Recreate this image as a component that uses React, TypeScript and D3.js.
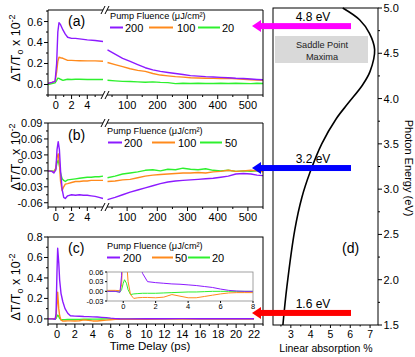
import React from 'react';
import * as d3 from 'd3';

// ---- data ----
const fluenceAB = ['200', '100', '20'];
const fluenceB = ['200', '100', '50'];
const fluenceC = ['200', '50', '20'];

// panel (a): short delays (ps) and long delays (ps)
const aTimeShort = [-1, -0.5, -0.1, 0.1, 0.25, 0.4, 0.6, 0.9, 1.2, 1.5, 2, 2.5, 3, 4, 5, 6];
const aPurpleShort = [0.01, 0.02, 0.03, 0.2, 0.5, 0.59, 0.57, 0.52, 0.48, 0.45, 0.44, 0.44, 0.435, 0.425, 0.42, 0.41];
const aOrangeShort = [0.01, 0.02, 0.03, 0.12, 0.22, 0.26, 0.255, 0.25, 0.24, 0.23, 0.23, 0.228, 0.227, 0.225, 0.225, 0.222];
const aGreenShort = [0.0, 0.01, 0.015, 0.04, 0.06, 0.058, 0.05, 0.04, 0.045, 0.05, 0.048, 0.05, 0.05, 0.048, 0.048, 0.047];
const aTimeLong = [35, 60, 85, 110, 135, 160, 185, 210, 235, 260, 285, 310, 335, 360, 385, 410, 435, 460, 485, 510, 530, 550];
const aPurpleLong = [0.33, 0.29, 0.25, 0.22, 0.19, 0.16, 0.14, 0.125, 0.115, 0.105, 0.095, 0.085, 0.08, 0.075, 0.072, 0.068, 0.065, 0.06, 0.057, 0.052, 0.048, 0.045];
const aOrangeLong = [0.21, 0.19, 0.17, 0.15, 0.135, 0.125, 0.105, 0.09, 0.082, 0.075, 0.07, 0.065, 0.062, 0.06, 0.058, 0.056, 0.06, 0.055, 0.05, 0.045, 0.042, 0.04];
const aGreenLong = [0.04, 0.035, 0.03, 0.028, 0.025, 0.022, 0.025, 0.02, 0.018, 0.008, 0.012, 0.01, 0.012, 0.01, 0.01, 0.012, 0.01, 0.012, 0.01, 0.008, 0.012, 0.01];

// panel (b)
const bTimeShort = [-1, -0.5, -0.25, 0, 0.15, 0.3, 0.45, 0.6, 0.8, 1.0, 1.2, 1.5, 2, 2.5, 3, 3.5, 4, 4.5, 5, 5.5, 6];
const bPurpleShort = [0, -0.001, -0.004, 0.002, 0.04, 0.055, 0.04, 0.0, -0.035, -0.05, -0.052, -0.047, -0.045, -0.046, -0.045, -0.046, -0.046, -0.047, -0.048, -0.05, -0.052];
const bOrangeShort = [0, -0.001, -0.002, 0.005, 0.025, 0.032, 0.015, -0.02, -0.037, -0.03, -0.025, -0.024, -0.022, -0.02, -0.02, -0.019, -0.019, -0.018, -0.018, -0.018, -0.018];
const bGreenShort = [0, 0, -0.001, 0.004, 0.015, 0.02, 0.01, -0.005, -0.015, -0.018, -0.02, -0.017, -0.016, -0.015, -0.014, -0.013, -0.012, -0.012, -0.011, -0.011, -0.01];
const bTimeLong = [35, 60, 85, 110, 135, 160, 185, 210, 235, 260, 285, 310, 335, 360, 385, 410, 435, 460, 485, 510, 530, 550];
const bPurpleLong = [-0.054, -0.05, -0.045, -0.04, -0.036, -0.032, -0.028, -0.024, -0.021, -0.019, -0.018, -0.017, -0.016, -0.015, -0.014, -0.012, -0.01, -0.006, -0.005, -0.006, -0.008, -0.009];
const bOrangeLong = [-0.02, -0.019, -0.017, -0.016, -0.013, -0.01, -0.008, -0.007, -0.006, -0.005, -0.004, -0.004, -0.003, -0.004, -0.002, -0.001, 0.001, -0.001, 0.0, 0.001, 0.0, -0.002];
const bGreenLong = [-0.013, -0.01, -0.006, -0.004, -0.002, 0.001, 0.002, 0.0, 0.003, 0.002, 0.005, 0.003, 0.002, 0.004, 0.001, 0.0, 0.001, -0.001, 0.0, -0.001, 0.0, 0.001];

// panel (c)
const cTime = [-1, -0.5, -0.2, -0.1, 0, 0.08, 0.2, 0.3, 0.45, 0.65, 0.9, 1.2, 1.5, 2, 2.5, 3, 3.5, 4, 4.5, 5, 5.5, 6, 6.5, 7, 7.5, 8, 10, 12, 14, 16, 18, 20, 22];
const cPurple = [0, 0, -0.003, 0.05, 0.45, 0.69, 0.55, 0.38, 0.25, 0.17, 0.1, 0.055, 0.03, 0.027, 0.025, 0.023, 0.022, 0.02, 0.018, 0.015, 0.012, 0.007, 0.003, 0.001, 0, 0, 0.002, 0.002, 0.003, 0.002, 0.002, 0.002, 0.002];
const cOrange = [0.003, 0.003, 0.002, 0.02, 0.15, 0.26, 0.1, 0.03, -0.01, -0.022, -0.02, -0.019, -0.019, -0.02, -0.018, -0.01, -0.015, -0.02, -0.02, -0.016, -0.012, -0.008, -0.005, -0.004, -0.004, -0.004, -0.003, -0.002, -0.002, -0.002, -0.002, -0.002, -0.002];
const cGreen = [0, 0, -0.002, 0.005, 0.025, 0.036, 0.025, 0.005, -0.01, -0.008, -0.007, -0.006, -0.006, -0.006, -0.005, -0.004, -0.003, -0.002, -0.002, -0.001, 0, 0, 0, 0, 0, 0, 0.003, 0.003, 0.003, 0.003, 0.003, 0.003, 0.003];

// panel (d): linear absorption (%) vs photon energy (eV)
const energyEv = [1.5, 1.92, 2.55, 2.91, 3.18, 3.5, 3.78, 3.95, 4.15, 4.3, 4.54, 4.72, 4.87, 5.0];
const absorptionPct = [2.6, 2.8, 3.2, 3.56, 3.96, 4.56, 5.3, 5.9, 6.62, 7.0, 7.23, 6.97, 6.47, 5.62];
const markerEnergies = [4.8, 3.2, 1.6];
const markerLabels = ['4.8 eV', '3.2 eV', '1.6 eV'];

// tick values
const shortTicks = [0, 2, 4];
const shortMinor = [-1, 1, 3, 5];
const longTicks = [100, 200, 300, 400, 500];
const longMinor = [50, 150, 250, 350, 450, 550];
const aYTicks = [0, 0.2, 0.4, 0.6];
const aYMinor = [-0.1, 0.1, 0.3, 0.5, 0.7];
const bYTicks = [-0.06, -0.03, 0, 0.03, 0.06, 0.09];
const bYMinor = [-0.045, -0.015, 0.015, 0.045, 0.075];
const cXTicks = [0, 2, 4, 6, 8, 10, 12, 14, 16, 18, 20, 22];
const cXMinor = [-1, 1, 3, 5, 7, 9, 11, 13, 15, 17, 19, 21, 23];
const cYTicks = [0, 0.2, 0.4, 0.6, 0.8];
const cYMinor = [0.1, 0.3, 0.5, 0.7];
const insetXTicks = [0, 2, 4, 6, 8];
const insetYTicks = [-0.03, 0, 0.03, 0.06];
const dXTicks = [3, 4, 5, 6, 7];
const dXMinor = [2.5, 3.5, 4.5, 5.5, 6.5];
const dYTicks = [1.5, 2.0, 2.5, 3.0, 3.5, 4.0, 4.5, 5.0];
const dYMinor = [1.75, 2.25, 2.75, 3.25, 3.75, 4.25, 4.75];

const FONT = '"Liberation Sans", Arial, sans-serif';
const PURPLE = '#8c1aff';
const ORANGE = '#ff8a1c';
const GREEN = '#2ef02e';
const colors = [PURPLE, ORANGE, GREEN];
const arrowColors = ['#ff00ff', '#0000ff', '#ff0000'];

type Scale = d3.ScaleLinear<number, number>;

function Trace({ xs, ys, x, y, color, w = 1.4 }: { xs: number[]; ys: number[]; x: Scale; y: Scale; color: string; w?: number }) {
  const gen = d3.line<number>().x((_, i) => x(xs[i])).y(d => y(d));
  return <path d={gen(ys) || ''} fill="none" stroke={color} strokeWidth={w} strokeLinejoin="round" />;
}

function XTicks({ scale, major, minor, y, labelY, fs = 11, len = 4, fmt = (v: number) => String(v) }: any) {
  return (
    <g>
      {major.map((v: number) => (
        <g key={'M' + v}>
          <line x1={scale(v)} x2={scale(v)} y1={y} y2={y + len} stroke="#000" />
          <text x={scale(v)} y={labelY} fontSize={fs} textAnchor="middle">{fmt(v)}</text>
        </g>
      ))}
      {minor.map((v: number) => (
        <line key={'m' + v} x1={scale(v)} x2={scale(v)} y1={y} y2={y + len / 2} stroke="#000" />
      ))}
    </g>
  );
}

function YTicks({ scale, major, minor, x, fs = 11, len = 4, fmt = (v: number) => String(v), right = false }: any) {
  const s = right ? 1 : -1;
  return (
    <g>
      {major.map((v: number) => (
        <g key={'M' + v}>
          <line x1={x} x2={x + s * len} y1={scale(v)} y2={scale(v)} stroke="#000" />
          <text x={x + s * (len + 1.5)} y={scale(v)} dy="0.36em" fontSize={fs} textAnchor={right ? 'start' : 'end'}>{fmt(v)}</text>
        </g>
      ))}
      {minor.map((v: number) => (
        <line key={'m' + v} x1={x} x2={x + s * len / 2} y1={scale(v)} y2={scale(v)} stroke="#000" />
      ))}
    </g>
  );
}

function YLabel({ cy }: { cy: number }) {
  return (
    <text transform={`translate(20,${cy}) rotate(-90)`} fontSize={12.5} textAnchor="middle">
      ΔT/T<tspan fontSize={9} dy={3}>o</tspan><tspan dy={-3}> x 10</tspan><tspan fontSize={9} dy={-5}>-2</tspan>
    </text>
  );
}

function Legend({ x, y, names, nameX, lineX }: { x: number; y: number; names: string[]; nameX: number[]; lineX: number[][] }) {
  return (
    <g>
      <text x={x} y={y} fontSize={9.2}>Pump Fluence (μJ/cm²)</text>
      {names.map((n, i) => (
        <g key={n + i}>
          <line x1={lineX[i][0]} x2={lineX[i][1]} y1={y + 8.5} y2={y + 8.5} stroke={colors[i]} strokeWidth={2} />
          <text x={nameX[i]} y={y + 12.5} fontSize={11}>{n}</text>
        </g>
      ))}
    </g>
  );
}

function BrokenFrame({ top, bottom, left, right, gap }: { top: number; bottom: number; left: number; right: number; gap: [number, number] }) {
  const mark = (cx: number, cy: number) => <line x1={cx - 2} y1={cy + 4} x2={cx + 2} y2={cy - 4} stroke="#000" />;
  return (
    <g>
      <line x1={left} x2={left} y1={top} y2={bottom} stroke="#000" />
      <line x1={right} x2={right} y1={top} y2={bottom} stroke="#000" />
      <line x1={left} x2={gap[0]} y1={top} y2={top} stroke="#000" />
      <line x1={gap[1]} x2={right} y1={top} y2={top} stroke="#000" />
      <line x1={left} x2={gap[0]} y1={bottom} y2={bottom} stroke="#000" />
      <line x1={gap[1]} x2={right} y1={bottom} y2={bottom} stroke="#000" />
      {mark(gap[0], top)}{mark(gap[1], top)}{mark(gap[0], bottom)}{mark(gap[1], bottom)}
    </g>
  );
}

export default function App() {
  const L = 48, R = 263;
  const shortX = d3.scaleLinear().domain([-1, 6]).range([L, 103]);
  const longX = d3.scaleLinear().domain([30, 550]).range([106, R]);

  const aY = d3.scaleLinear().domain([-0.1, 0.71]).range([95, 10]);
  const bY = d3.scaleLinear().domain([-0.068, 0.09]).range([207, 123]);
  const cX = d3.scaleLinear().domain([-1, 23]).range([L, R]);
  const cY = d3.scaleLinear().domain([-0.05, 0.8]).range([324, 237]);
  const inX = d3.scaleLinear().domain([-1, 8]).range([107, 253]);
  const inY = d3.scaleLinear().domain([-0.03, 0.06]).range([301, 272]);
  const dX = d3.scaleLinear().domain([2.1, 7.4]).range([273, 378]);
  const dY = d3.scaleLinear().domain([1.5, 5.0]).range([325, 8]);

  const aShort = [aPurpleShort, aOrangeShort, aGreenShort];
  const aLong = [aPurpleLong, aOrangeLong, aGreenLong];
  const bShort = [bPurpleShort, bOrangeShort, bGreenShort];
  const bLong = [bPurpleLong, bOrangeLong, bGreenLong];
  const cSeries = [cPurple, cOrange, cGreen];

  const absLine = d3.line<number>()
    .x((_, i) => dX(absorptionPct[i]))
    .y(d => dY(d))
    .curve(d3.curveCatmullRom.alpha(0.5));

  const f1 = (v: number) => v.toFixed(1);
  const f2 = (v: number) => v.toFixed(2);

  return (
    <svg width={415} height={357} style={{ position: 'absolute', left: 0, top: 0 }} fontFamily={FONT}>
      <defs>
        <clipPath id="clipA"><rect x={L} y={10} width={R - L} height={85} /></clipPath>
        <clipPath id="clipB"><rect x={L} y={123} width={R - L} height={84} /></clipPath>
        <clipPath id="clipC"><rect x={L} y={237} width={R - L} height={87} /></clipPath>
        <clipPath id="clipIn"><rect x={107} y={272} width={146} height={29} /></clipPath>
      </defs>
      <rect width={415} height={357} fill="#fff" />

      {/* panel (a) */}
      <g clipPath="url(#clipA)">
        {[2, 1, 0].map(i => (
          <g key={'a' + i}>
            <Trace xs={aTimeShort} ys={aShort[i]} x={shortX} y={aY} color={colors[i]} />
            <Trace xs={aTimeLong} ys={aLong[i]} x={longX} y={aY} color={colors[i]} />
          </g>
        ))}
      </g>
      <BrokenFrame top={10} bottom={95} left={L} right={R} gap={[103, 107]} />
      <XTicks scale={shortX} major={shortTicks} minor={shortMinor} y={95} labelY={109} />
      <XTicks scale={longX} major={longTicks} minor={longMinor} y={95} labelY={109} />
      <YTicks scale={aY} major={aYTicks} minor={aYMinor} x={L} fmt={f1} />
      <YLabel cy={48} />
      <text x={68} y={26} fontSize={14}>(a)</text>
      <Legend x={110} y={19} names={fluenceAB} nameX={[125, 177, 222]} lineX={[[110, 123], [149, 173], [198, 220]]} />

      {/* panel (b) */}
      <g clipPath="url(#clipB)">
        {[2, 1, 0].map(i => (
          <g key={'b' + i}>
            <Trace xs={bTimeShort} ys={bShort[i]} x={shortX} y={bY} color={colors[i]} />
            <Trace xs={bTimeLong} ys={bLong[i]} x={longX} y={bY} color={colors[i]} />
          </g>
        ))}
      </g>
      <BrokenFrame top={123} bottom={207} left={L} right={R} gap={[103, 107]} />
      <XTicks scale={shortX} major={shortTicks} minor={shortMinor} y={207} labelY={221} />
      <XTicks scale={longX} major={longTicks} minor={longMinor} y={207} labelY={221} />
      <YTicks scale={bY} major={bYTicks} minor={bYMinor} x={L} fmt={f2} />
      <YLabel cy={157} />
      <text x={68} y={140} fontSize={14}>(b)</text>
      <Legend x={107} y={134} names={fluenceB} nameX={[124, 178, 225]} lineX={[[108, 122], [152, 175], [200, 222]]} />

      {/* panel (c) */}
      <g clipPath="url(#clipC)">
        {[2, 1, 0].map(i => (
          <Trace key={'c' + i} xs={cTime} ys={cSeries[i]} x={cX} y={cY} color={colors[i]} />
        ))}
      </g>
      <rect x={L} y={237} width={R - L} height={87} fill="none" stroke="#000" />
      <XTicks scale={cX} major={cXTicks} minor={cXMinor} y={324} labelY={338} />
      <YTicks scale={cY} major={cYTicks} minor={cYMinor} x={L} fmt={f1} />
      <YLabel cy={287} />
      <text x={68} y={253} fontSize={14}>(c)</text>
      <Legend x={107} y={249} names={fluenceC} nameX={[123, 175, 212]} lineX={[[107, 120], [152, 173], [188, 210]]} />
      <text x={150} y={350} fontSize={11.5} textAnchor="middle">Time Delay (ps)</text>

      {/* inset */}
      <rect x={107} y={272} width={146} height={29} fill="#fff" />
      <g clipPath="url(#clipIn)">
        {[2, 1, 0].map(i => (
          <Trace key={'in' + i} xs={cTime} ys={cSeries[i]} x={inX} y={inY} color={colors[i]} w={1} />
        ))}
      </g>
      <rect x={107} y={272} width={146} height={29} fill="none" stroke="#8a8a8a" strokeWidth={0.8} />
      <g fill="#000">
        <XTicks scale={inX} major={insetXTicks} minor={[]} y={301} labelY={309} fs={7.5} len={2} />
        <YTicks scale={inY} major={insetYTicks} minor={[]} x={107} fs={7.5} len={2} fmt={f2} />
      </g>

      {/* panel (d) */}
      <rect x={275} y={36} width={93} height={27} fill="#d9d9d9" />
      <text x={322} y={48} fontSize={9.2} textAnchor="middle" fill="#222">Saddle Point</text>
      <text x={322} y={60} fontSize={9.2} textAnchor="middle" fill="#222">Maxima</text>
      <path d={absLine(energyEv) || ''} fill="none" stroke="#000" strokeWidth={1.6} />
      <rect x={273} y={8} width={105} height={317} fill="none" stroke="#000" />
      <XTicks scale={dX} major={dXTicks} minor={dXMinor} y={325} labelY={338} fs={10.5} len={3} />
      <YTicks scale={dY} major={dYTicks} minor={dYMinor} x={378} right fmt={f1} />
      <text x={326} y={352} fontSize={10.5} textAnchor="middle">Linear absorption %</text>
      <text transform="translate(405,168) rotate(90)" fontSize={11} textAnchor="middle">Photon  Energy (eV)</text>
      <text x={342} y={253} fontSize={14}>(d)</text>

      {/* arrows */}
      {markerEnergies.map((e, i) => {
        const y = dY(e) - (i === 0 ? 0 : 3);
        return (
          <g key={'arr' + i}>
            <rect x={259} y={y - 3} width={92} height={6} fill={arrowColors[i]} />
            <path d={`M252,${y} L261,${y - 6} L261,${y + 6} Z`} fill={arrowColors[i]} />
            <text x={313} y={y - 5} fontSize={12} textAnchor="middle">{markerLabels[i]}</text>
          </g>
        );
      })}
    </svg>
  );
}
